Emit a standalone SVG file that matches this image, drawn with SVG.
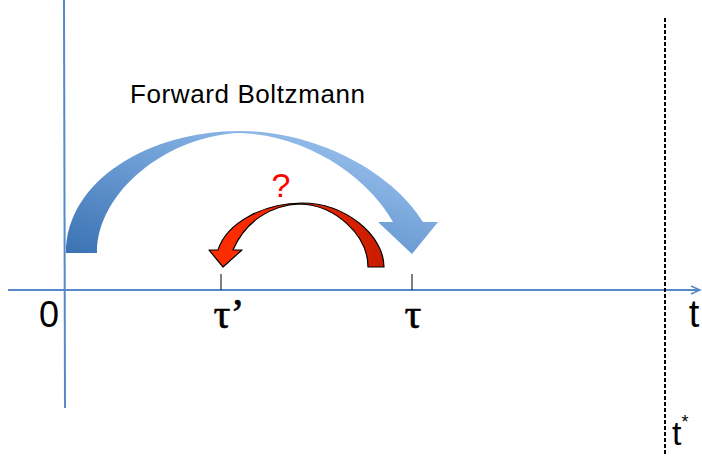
<svg xmlns="http://www.w3.org/2000/svg" width="702" height="456" viewBox="0 0 702 456">
<style>
.axis{stroke:#5689c8;stroke-width:2;fill:none}
.tick{stroke:#000;stroke-width:1;fill:none}
.lbl{font-family:"Liberation Sans",Arial,sans-serif;fill:#000}
.greek{font-family:"Liberation Serif","Times New Roman",serif;fill:#000;stroke:#000;stroke-width:0.6}
</style>
<defs>
<linearGradient id="gBlue" x1="0" y1="1" x2="1" y2="0">
<stop offset="0" stop-color="#3a72b2"/>
<stop offset="0.5" stop-color="#6f9fd6"/>
<stop offset="1" stop-color="#a9cdf6"/>
</linearGradient>
<linearGradient id="gRed" x1="0" y1="0" x2="1" y2="0">
<stop offset="0" stop-color="#ff2e00"/>
<stop offset="0.5" stop-color="#f02600"/>
<stop offset="1" stop-color="#c81c00"/>
</linearGradient>
<marker id="arr" markerWidth="12" markerHeight="12" refX="10" refY="6" orient="auto" markerUnits="userSpaceOnUse">
<path d="M1,2 L10,6 L1,10" fill="none" stroke="#5689c8" stroke-width="1.5"/>
</marker>
</defs>
<g id="connectors">
<line class="axis" x1="64" y1="0" x2="65" y2="408"/>
<line class="axis" x1="8" y1="290" x2="700" y2="290" marker-end="url(#arr)"/>
<line x1="665" y1="18" x2="665" y2="456" stroke="#000" stroke-width="2" stroke-dasharray="4,2"/>
<line class="tick" x1="221" y1="274" x2="221" y2="290"/>
<line class="tick" x1="412" y1="274" x2="412" y2="290"/>
</g>
<g id="forward-arrow">
<path d="M66,253 C66,180 150,131 240,131 C320,131 395,175 423,222 L438,222 L412,254 L378,222 L393,222 C370,180 310,135 240,133 C170,135 97,190 97,253 Z" fill="url(#gBlue)"/>
</g>
<g id="backward-arrow">
<path d="M384,267 C384,235 345,203 302,203 C265,203 227,222 218,250 L209,250 L223,267 L242,250 L233,250 C245,222 270,205 300,204 C335,205 368,235 368,267 Z" fill="url(#gRed)" stroke="#000" stroke-width="1.2" stroke-linejoin="round"/>
</g>
<g id="labels">
<text class="lbl" x="130" y="103" font-size="26" textLength="235">Forward Boltzmann</text>
<text x="281" y="197" font-family="Liberation Sans,Arial,sans-serif" font-size="34" fill="#ff0000" text-anchor="middle">?</text>
<text class="lbl" x="49" y="327" font-size="36" text-anchor="middle">0</text>
<text class="greek" x="229" y="328" font-size="42" text-anchor="middle">τ’</text>
<text class="greek" x="413" y="328" font-size="42" text-anchor="middle">τ</text>
<text class="lbl" x="694" y="327" font-size="38" text-anchor="middle">t</text>
<text class="lbl" x="672" y="445" font-size="34">t<tspan font-size="18" dy="-17">*</tspan></text>
</g>
</svg>
